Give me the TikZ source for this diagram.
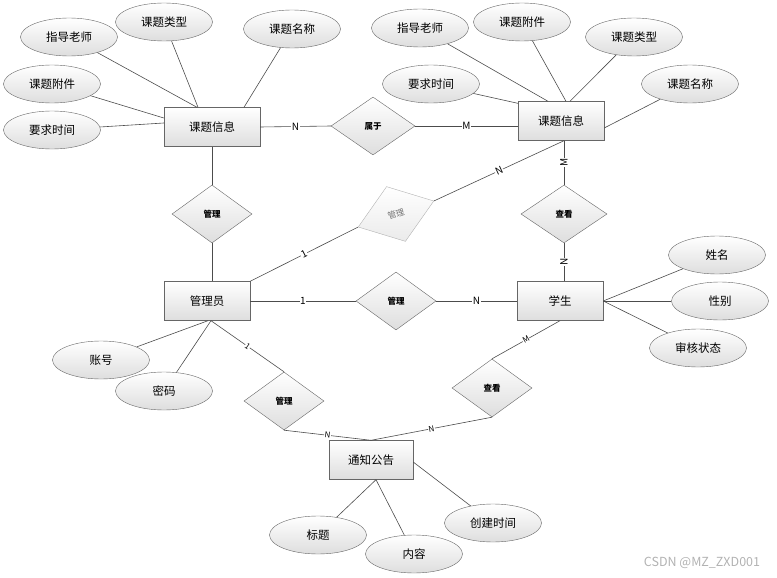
\documentclass[tikz,border=0pt]{standalone}
\usepackage{fontspec}
\setmainfont{Noto Sans CJK SC}
\usetikzlibrary{shapes.geometric}

\begin{document}
\begin{tikzpicture}[
            x=1pt,y=-1pt,
            every node/.style={font=\fontsize{11.5}{13}\selectfont},
            entity/.style={rectangle,draw=black!60,top color=white,bottom color=black!13,
                minimum width=86pt,minimum height=39pt,inner sep=0pt},
            attr/.style={ellipse,draw=black!60,top color=white,bottom color=black!13,
                minimum width=97pt,minimum height=38pt,inner sep=0pt},
            rel/.style={diamond,draw=black!60,top color=white,bottom color=black!13,
                minimum width=80pt,minimum height=58pt,inner sep=0pt,
                font=\fontsize{8.5}{10}\selectfont\bfseries},
            card/.style={fill=white,inner sep=0.6pt,font=\fontsize{10}{11}\selectfont},
            cardsm/.style={fill=white,inner sep=0.4pt,font=\fontsize{8}{9}\selectfont},
            link/.style={draw=black!70,line width=0.6pt}
        ]
    \useasboundingbox (0,0) rectangle (777,578);
    % Entities
        \node[entity,minimum width=96pt] (ktxxA) at (212,127) {课题信息};
        \node[entity] (ktxxB) at (561,121) {课题信息};
        \node[entity] (gly) at (207,301) {管理员};
        \node[entity] (xs) at (560,301) {学生};
        \node[entity,minimum width=84pt] (tzgg) at (371,460) {通知公告};
    % Relations
        \node[rel,minimum width=84pt] (shuyu) at (373,126) {属于};
        \node[rel] (glA) at (212,214) {管理};
        \node[rel,rotate=19,draw=black!30,top color=white,bottom color=black!8,
              text=black!55,font=\fontsize{8.5}{10}\selectfont] (glX) at (396,214) {管理};
        \node[rel] (glB) at (396,301) {管理};
        \node[rel] (glC) at (284,401) {管理};
        \node[rel,minimum width=86pt] (ckA) at (564,214) {查看};
        \node[rel] (ckB) at (492,388) {查看};
    % Attributes
        \node[attr] (zdlsA) at (69,37) {指导老师};
        \node[attr] (lxA) at (164,22) {课题类型};
        \node[attr] (mcA) at (292,29) {课题名称};
        \node[attr] (fjA) at (52,84) {课题附件};
        \node[attr] (sjA) at (52,130) {要求时间};
        \node[attr] (zdlsB) at (420,28) {指导老师};
        \node[attr] (fjB) at (522,22) {课题附件};
        \node[attr] (lxB) at (634,37) {课题类型};
        \node[attr] (sjB) at (431,84) {要求时间};
        \node[attr] (mcB) at (690,84) {课题名称};
        \node[attr] (zh) at (101,360) {账号};
        \node[attr] (mm) at (164,391) {密码};
        \node[attr] (xm) at (717,255) {姓名};
        \node[attr] (xb) at (720,301) {性别};
        \node[attr] (shzt) at (698,348) {审核状态};
        \node[attr] (bt) at (318,535) {标题};
        \node[attr] (nr) at (414,554) {内容};
        \node[attr] (cjsj) at (493,523) {创建时间};
    % Attribute links
        \draw[link] (zdlsA) -- ([xshift=-15pt]ktxxA.north);
        \draw[link] (lxA) -- ([xshift=-14pt]ktxxA.north);
        \draw[link] (mcA) -- ([xshift=32pt]ktxxA.north);
        \draw[link] (fjA) -- ([yshift=9pt]ktxxA.west);
        \draw[link] (sjA) -- ([yshift=4pt]ktxxA.west);
        \draw[link] (zdlsB) -- ([xshift=-13pt]ktxxB.north);
        \draw[link] (fjB) -- ([xshift=5pt]ktxxB.north);
        \draw[link] (lxB) -- ([xshift=9pt]ktxxB.north);
        \draw[link] (sjB) -- ([yshift=-2pt]ktxxB.north west);
        \draw[link] (mcB) -- ([yshift=-7pt]ktxxB.east);
        \draw[link] (zh) -- ([xshift=1pt]gly.south);
        \draw[link] (mm) -- ([xshift=4pt]gly.south);
        \draw[link] (xm) -- (xs.east);
        \draw[link] (xb) -- (xs.east);
        \draw[link] (shzt) -- (xs.east);
        \draw[link] (bt) -- ([xshift=5pt]tzgg.south);
        \draw[link] (nr) -- ([xshift=5pt]tzgg.south);
        \draw[link] (cjsj) -- ([yshift=-2pt]tzgg.east);
    % Relation links
        \draw[link] (ktxxA.east) -- node[card] {N} (shuyu.west);
        \draw[link] (shuyu.east) -- node[card] {M} (shuyu.east -| ktxxB.west);
        \draw[link] ([xshift=3pt]ktxxB.south) -- node[card,rotate=90] {M} (ckA.north);
        \draw[link] ([xshift=3pt]ktxxB.south) -- node[card,sloped] {N} (glX.east);
        \draw[link] (ckA.south) -- node[card,rotate=90] {N} (ckA.south |- xs.north);
        \draw[link] (glA.north) -- (glA.north |- ktxxA.south);
        \draw[link] (glA.south) -- (glA.south |- gly.north);
        \draw[link] (gly.north east) -- node[card,sloped] {1} (glX.west);
        \draw[link] (gly.east) -- node[card] {1} (glB.west);
        \draw[link] (glB.east) -- node[card] {N} (xs.west);
        \draw[link] ([xshift=4pt]gly.south) -- node[cardsm,sloped] {1} (glC.north);
        \draw[link] (glC.south) -- node[cardsm,sloped] {N} (tzgg.north);
        \draw[link] (xs.south) -- node[cardsm,sloped] {M} (ckB.north);
        \draw[link] (ckB.south) -- node[cardsm,sloped] {N} (tzgg.north);
    % Mark
        \node[text=black!30,font=\fontsize{12.5}{14}\selectfont] (mark) at (702,563) {CSDN @MZ\_ZXD001};
\end{tikzpicture}
\end{document}
